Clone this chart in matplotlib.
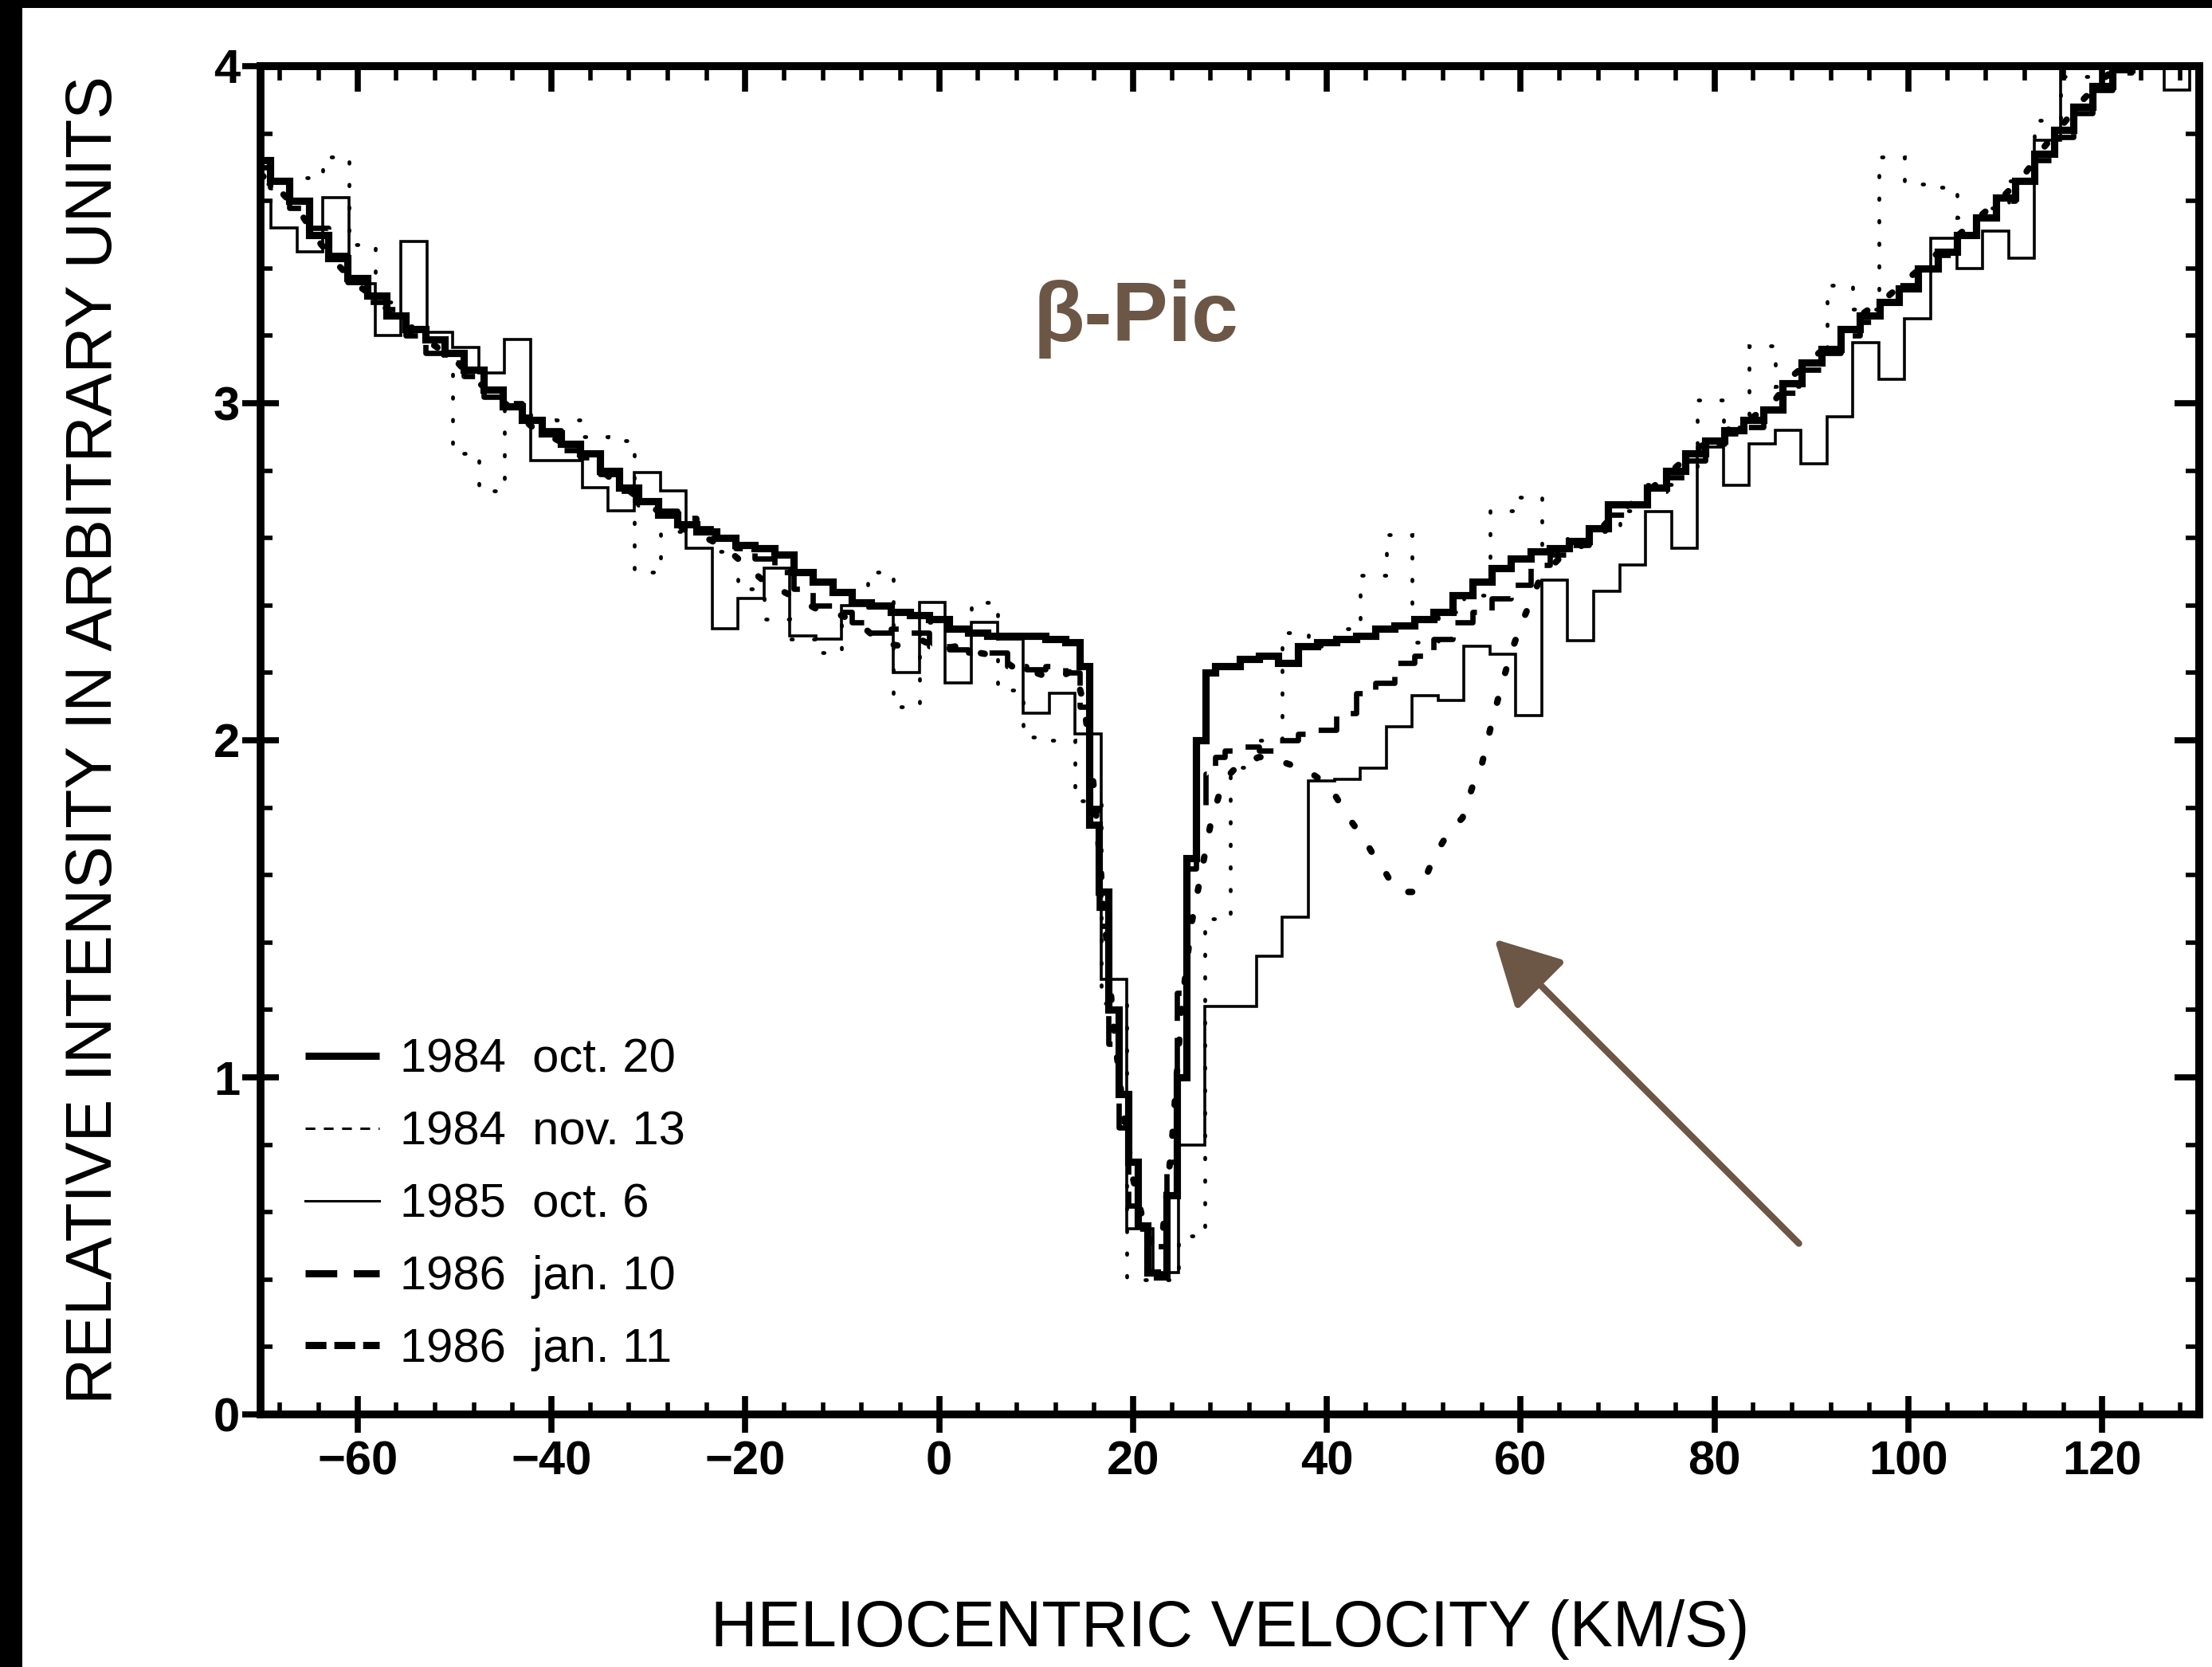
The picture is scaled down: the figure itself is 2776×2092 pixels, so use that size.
import numpy as np
import matplotlib
matplotlib.use("Agg")
import matplotlib.pyplot as plt
from matplotlib.lines import Line2D
from matplotlib.patches import Rectangle
from matplotlib.ticker import MultipleLocator

# ---------------------------------------------------------------------------
# Ca II K line profiles of beta Pictoris at five epochs
# ---------------------------------------------------------------------------
labels = ["1984  oct. 20", "1984  nov. 13", "1985  oct. 6",
          "1986  jan. 10", "1986  jan. 11"]

# High-resolution spectra (velocity grid in km/s)
vel_hr = np.r_[np.arange(-70, 15, 2), np.arange(15, 30, 1), np.arange(30, 131, 2)]

oct20 = [3.72, 3.66, 3.60, 3.50, 3.43, 3.37, 3.32, 3.26, 3.22, 3.19,
         3.15, 3.10, 3.04, 2.99, 2.95, 2.91, 2.88, 2.85, 2.80, 2.75,
         2.71, 2.67, 2.64, 2.62, 2.60, 2.58, 2.57, 2.55, 2.50, 2.47,
         2.44, 2.41, 2.40, 2.38, 2.37, 2.36, 2.33, 2.32, 2.31, 2.31,
         2.31, 2.30, 2.29,
         2.22, 1.75, 1.55, 1.20, 0.95, 0.75, 0.56, 0.42, 0.41, 0.65,
         1.00, 1.65, 2.00, 2.20, 2.22,
         2.22, 2.24, 2.25, 2.23, 2.28, 2.29, 2.30, 2.31, 2.33, 2.34,
         2.36, 2.38, 2.43, 2.47, 2.51, 2.54, 2.56, 2.57, 2.59, 2.63,
         2.70, 2.70, 2.75, 2.80, 2.85, 2.89, 2.92, 2.95, 2.98, 3.06,
         3.12, 3.16, 3.22, 3.26, 3.30, 3.34, 3.40, 3.45, 3.50, 3.55,
         3.61, 3.66, 3.74, 3.81, 3.88, 3.94, 3.99, 4.03, 4.05, 4.08,
         4.10]

jan10 = [3.70, 3.64, 3.58, 3.52, 3.44, 3.36, 3.30, 3.28, 3.20, 3.15,
         3.12, 3.08, 3.02, 3.00, 2.96, 2.92, 2.86, 2.84, 2.79, 2.74,
         2.70, 2.68, 2.66, 2.63, 2.60, 2.57, 2.54, 2.50, 2.45, 2.40,
         2.38, 2.35, 2.32, 2.33, 2.32, 2.28, 2.27, 2.26, 2.26, 2.22,
         2.21, 2.22, 2.20,
         2.10, 1.80, 1.45, 1.10, 0.85, 0.62, 0.55, 0.48, 0.50, 0.75,
         1.25, 1.62, 1.80, 1.90, 1.95,
         1.97, 1.98, 1.97, 2.00, 2.02, 2.03, 2.08, 2.14, 2.17, 2.23,
         2.25, 2.30, 2.35, 2.38, 2.42, 2.46, 2.52, 2.55, 2.58, 2.62,
         2.67, 2.70, 2.74, 2.78, 2.83, 2.88, 2.91, 2.93, 2.97, 3.03,
         3.10, 3.15, 3.20, 3.24, 3.30, 3.35, 3.40, 3.44, 3.50, 3.55,
         3.60, 3.66, 3.72, 3.79, 3.86, 3.93, 3.98, 4.02, 4.05, 4.08,
         4.10]

vel_j11 = np.r_[np.arange(-70, 15, 2), np.arange(15, 61, 1), np.arange(62, 131, 2)]
jan11 = [3.68, 3.63, 3.57, 3.48, 3.41, 3.35, 3.31, 3.25, 3.20, 3.17,
         3.13, 3.07, 3.03, 2.98, 2.93, 2.90, 2.87, 2.83, 2.78, 2.74,
         2.70, 2.66, 2.62, 2.60, 2.57, 2.52, 2.47, 2.44, 2.41, 2.38,
         2.37, 2.34, 2.29, 2.28, 2.30, 2.27, 2.28, 2.26, 2.25, 2.21,
         2.20, 2.18, 2.21,
         2.10, 1.85, 1.50, 1.15, 0.90, 0.70, 0.58, 0.50, 0.52, 0.80,
         1.20, 1.45, 1.60, 1.75, 1.85, 1.90, 1.93, 1.94, 1.95, 1.95,
         1.94, 1.93, 1.92, 1.91, 1.89, 1.87, 1.83, 1.78, 1.74, 1.70,
         1.65, 1.61, 1.56, 1.55, 1.55, 1.58, 1.65, 1.70, 1.74, 1.77,
         1.86, 1.93, 2.05, 2.16, 2.26, 2.34,
         2.48, 2.54, 2.57, 2.62, 2.68, 2.71, 2.76, 2.81, 2.86, 2.90,
         2.93, 2.96, 3.00, 3.08, 3.13, 3.18, 3.24, 3.28, 3.32, 3.37,
         3.42, 3.47, 3.52, 3.57, 3.62, 3.68, 3.76, 3.83, 3.90, 3.96,
         4.01, 4.04, 4.07, 4.09, 4.10]

# Low-resolution spectra: binned, 2.675 km/s per bin
bin_edges = -71.575 + 2.675 * np.arange(77)

oct6 = [3.60, 3.52, 3.45, 3.61, 3.355, 3.20, 3.48, 3.21, 3.165, 3.09,
        3.19, 2.83, 2.83, 2.75, 2.68, 2.795, 2.74, 2.57, 2.33, 2.42,
        2.51, 2.31, 2.30, 2.40, 2.40, 2.20, 2.41, 2.17, 2.35, 2.30,
        2.08, 2.14, 2.02, 1.29, 0.55, 0.42, 0.80, 1.21, 1.21, 1.36,
        1.475, 1.88, 1.885, 1.917, 2.04, 2.133, 2.118, 2.28, 2.256, 2.074,
        2.476, 2.295, 2.442, 2.52, 2.678, 2.57, 2.87, 2.757, 2.88, 2.92,
        2.82, 2.96, 3.18, 3.07, 3.25, 3.49, 3.40, 3.51, 3.43, 3.78,
        4.2, 4.2, 4.2, 4.2, 3.93, 4.2]

nov13 = [3.65, 3.66, 3.67, 3.73, 3.47, 3.30, 3.23, 3.17, 2.85, 2.74,
         3.00, 2.93, 2.95, 2.90, 2.89, 2.50, 2.62, 2.63, 2.56, 2.45,
         2.36, 2.30, 2.26, 2.38, 2.50, 2.10, 2.35, 2.33, 2.41, 2.15,
         2.01, 2.00, 1.82, 1.22, 0.40, 0.40, 0.53, 1.47, 1.92, 2.00,
         2.32, 2.28, 2.33, 2.49, 2.61, 2.29, 2.38, 2.43, 2.68, 2.72,
         2.56, 2.60, 2.62, 2.68, 2.76, 2.80, 3.01, 2.93, 3.17, 3.05,
         3.12, 3.35, 3.28, 3.73, 3.65, 3.64, 3.55, 3.58, 3.66, 3.84,
         3.97, 3.97, 4.2, 4.2, 4.2, 4.2]

x_ticks = [-60, -40, -20, 0, 20, 40, 60, 80, 100, 120]
y_ticks = [0, 1, 2, 3, 4]

# ---------------------------------------------------------------------------
W, H = 2776, 2092
fig = plt.figure(figsize=(W / 100, H / 100), dpi=100)
fig.patch.set_facecolor("white")
ax = fig.add_axes([327 / W, 1 - 1775 / H, (2760 - 327) / W, (1775 - 83) / H])

brown = "#6c5646"

ax.stairs(oct6, bin_edges, baseline=None, color="black", lw=2.6, zorder=2)
ax.stairs(nov13, bin_edges, baseline=None, color="black", lw=3.4,
          linestyle=(0, (0.4, 5.6)), capstyle="round", zorder=2)
ax.plot(vel_hr, jan10, drawstyle="steps-mid", color="black", lw=4.8,
        linestyle=(0, (6, 3.2)), dash_capstyle="butt", zorder=3)
ax.plot(vel_j11, jan11, color="black", lw=5.8,
        linestyle=(0, (0.6, 4.2)), dash_capstyle="round", zorder=3)
ax.plot(vel_hr, oct20, drawstyle="steps-mid", color="black", lw=6.6,
        solid_joinstyle="miter", zorder=4)

ax.set_xlim(-70, 130)
ax.set_ylim(0, 4)

# spines and ticks
for sp in ax.spines.values():
    sp.set_linewidth(7)
ax.xaxis.set_minor_locator(MultipleLocator(4))
ax.yaxis.set_minor_locator(MultipleLocator(0.2))
ax.set_xticks(x_ticks)
ax.set_yticks(y_ticks)
ax.set_xticklabels([f"\u2212{abs(v)}" if v < 0 else str(v) for v in x_ticks])
ax.set_yticklabels([str(v) for v in y_ticks])
ax.tick_params(which="major", direction="inout", length=33, width=5.5,
               labelsize=43, top=False, right=False)
ax.tick_params(which="minor", direction="in", length=11, width=4,
               top=False, right=False)
ax.tick_params(axis="x", which="major", pad=7)
ax.tick_params(axis="y", which="major", pad=2)
for lab in ax.get_xticklabels() + ax.get_yticklabels():
    lab.set_fontfamily("Liberation Sans")
    lab.set_fontweight("bold")

# inward ticks on the top and right edges
top = ax.secondary_xaxis("top")
top.xaxis.set_major_locator(MultipleLocator(20))
top.xaxis.set_minor_locator(MultipleLocator(4))
top.tick_params(which="major", direction="in", length=23, width=5.5,
                labeltop=False)
top.tick_params(which="minor", direction="in", length=13, width=4)
top.spines["top"].set_linewidth(7)
right = ax.secondary_yaxis("right")
right.yaxis.set_major_locator(MultipleLocator(1))
right.yaxis.set_minor_locator(MultipleLocator(0.2))
right.tick_params(which="major", direction="in", length=22, width=5.5,
                  labelright=False)
right.tick_params(which="minor", direction="in", length=12, width=4)
right.spines["right"].set_linewidth(7)

# axis titles
ax.set_xlabel("HELIOCENTRIC VELOCITY (KM/S)", fontsize=58.5,
              fontfamily="Liberation Sans")
ax.set_ylabel("RELATIVE INTENSITY IN ARBITRARY UNITS", fontsize=58,
              fontfamily="Liberation Sans")
ax.xaxis.set_label_coords(0.5, -0.1596)
ax.xaxis.label.set_va("center")
ax.yaxis.set_label_coords(-0.0855, 0.5)
ax.yaxis.label.set_va("center")

# legend
handles = [
    Line2D([], [], color="black", lw=6.5, solid_capstyle="butt"),
    Line2D([], [], color="black", lw=2.2, linestyle=(0, (4, 3.5))),
    Line2D([], [], color="black", lw=2.2),
    Line2D([], [], color="black", lw=6.5, linestyle=(0, (4.4, 2.3)),
           dash_capstyle="butt"),
    Line2D([], [], color="black", lw=6.5, linestyle=(0, (2.9, 1.1)),
           dash_capstyle="butt"),
]
leg = ax.legend(handles, labels, loc="upper left",
                bbox_to_anchor=(0.023, 0.279), frameon=False,
                prop={"family": "Liberation Sans", "size": 43},
                handlelength=1.55, handletextpad=0.45, labelspacing=0.6,
                borderpad=0, borderaxespad=0)

# annotation
ax.text(20.3, 3.25, "\u03b2-Pic", ha="center", va="center", fontsize=76,
        fontweight="bold", color=brown, fontfamily="Liberation Sans")
ax.annotate("", xy=(57.3, 1.41), xytext=(88.7, 0.507),
            arrowprops=dict(arrowstyle="-|>,head_length=1.4,head_width=0.75",
                            lw=6, color=brown, mutation_scale=36,
                            shrinkA=0, shrinkB=0))

# black scan edges along the top and left
fig.add_artist(Rectangle((0, 1 - 10 / H), 1, 10 / H,
                         transform=fig.transFigure, color="black", lw=0))
fig.add_artist(Rectangle((0, 0), 28 / W, 1,
                         transform=fig.transFigure, color="black", lw=0))

fig.savefig("out.png", dpi=100)
